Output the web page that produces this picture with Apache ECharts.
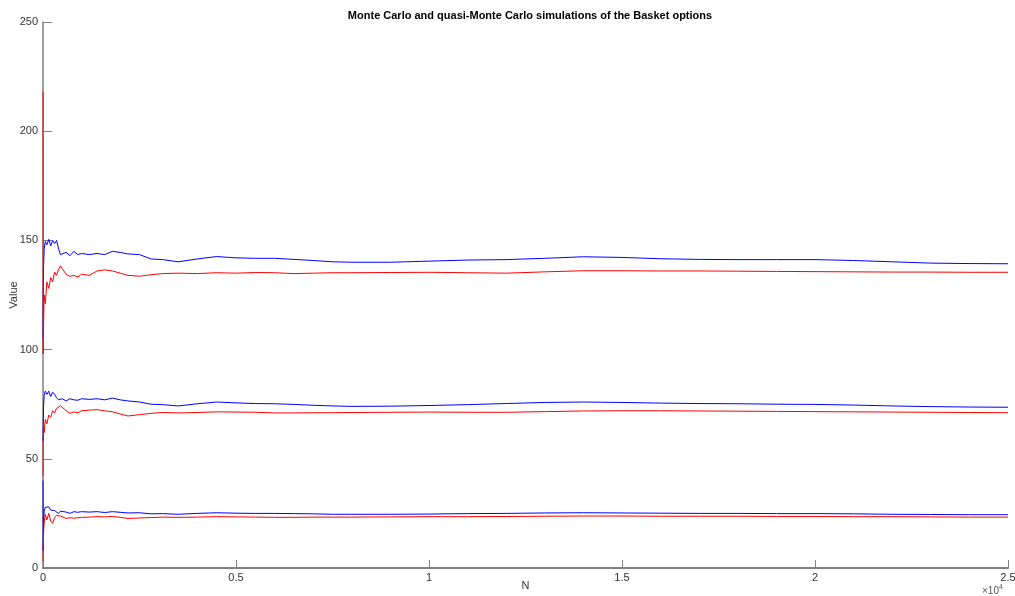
<!DOCTYPE html>
<html>
<head>
<meta charset="utf-8">
<script src="https://cdn.jsdelivr.net/npm/echarts@6/dist/echarts.min.js"></script>
<style>html,body{margin:0;padding:0;background:#fff}#c{width:1015px;height:596px}</style>
</head>
<body>
<div id="c"></div>
<script>
const N = [1, 5, 15, 30, 60, 100, 150, 200, 250, 300, 350, 400, 450, 500, 600, 700, 800, 900, 1000, 1200, 1400, 1600, 1800, 2000, 2200, 2500, 2800, 3100, 3500, 4000, 4500, 5000, 5500, 6000, 6500, 7000, 7500, 8000, 9000, 10000, 11000, 12000, 13000, 14000, 15000, 16000, 17000, 18000, 19000, 20000, 21000, 22000, 23000, 24000, 25000];

const mcHigh = [105, 122, 138, 146, 149.5, 148, 150.5, 147.5, 150, 148.5, 150, 146.5, 143.5, 143, 144.5, 143, 145, 143.5, 144, 143.5, 144, 143.5, 145, 144.5, 143.8, 143.5, 141.5, 141.2, 140.2, 141.5, 142.6, 142, 141.8, 141.8, 141.3, 140.8, 140.2, 140, 140, 140.5, 141, 141.2, 141.8, 142.5, 142.2, 141.6, 141.3, 141.2, 141.2, 141.2, 140.8, 140.2, 139.6, 139.4, 139.3];
const qmcHigh = [218, 98, 112, 125, 121, 131, 128, 133, 131, 135.5, 134, 136.5, 138.3, 137.5, 134.5, 133.5, 134, 133.2, 134.5, 134, 136, 136.5, 136, 135, 134, 133.6, 134.3, 134.8, 135, 134.8, 135.2, 135, 135.3, 135.2, 134.8, 135, 135.2, 135.2, 135.3, 135.4, 135.2, 135, 135.6, 136.1, 136.1, 136, 136, 135.9, 135.8, 135.7, 135.6, 135.5, 135.5, 135.4, 135.4];

const mcMid = [58, 65, 74, 79, 81, 79.5, 81, 78.5, 80.5, 79.5, 78, 77, 76.5, 77.5, 76.5, 77.5, 77, 76.8, 77.5, 77.2, 77.5, 77, 77.8, 77, 76.5, 76, 75, 74.8, 74.2, 75.2, 76, 75.6, 75.3, 75.2, 74.9, 74.5, 74.2, 74, 74.1, 74.4, 74.8, 75.3, 75.8, 76, 75.8, 75.5, 75.3, 75.2, 75, 74.9, 74.6, 74.2, 73.9, 73.7, 73.6];
const qmcMid = [42, 58, 66, 62, 68, 66, 70, 69, 72, 71, 73, 72.5, 74.3, 73.8, 72, 70.8, 71.5, 71, 72, 72.3, 72.5, 72, 71.5, 70.5, 69.6, 70.2, 70.8, 71.2, 71, 71.2, 71.5, 71.4, 71.3, 71, 71, 71.1, 71.1, 71.2, 71.3, 71.4, 71.3, 71.3, 71.6, 71.9, 72, 72, 71.9, 71.8, 71.7, 71.6, 71.5, 71.4, 71.3, 71.2, 71.1];

const mcLow = [40, 8, 20, 26, 27.8, 27.3, 28, 26.5, 27.2, 26.3, 25.5, 25, 26, 25.3, 25.6, 25, 25.8, 25.5, 25.8, 25.6, 25.8, 25.4, 25.8, 25.5, 25.2, 25.3, 24.8, 24.9, 24.6, 25, 25.3, 25.1, 25, 25, 24.9, 24.8, 24.6, 24.6, 24.6, 24.7, 24.9, 25, 25.2, 25.3, 25.2, 25.1, 25, 25, 24.9, 24.9, 24.8, 24.6, 24.5, 24.4, 24.4];
const qmcLow = [3, 10, 16, 21, 24.5, 22, 25, 21.5, 20.5, 23, 24, 24.5, 23.8, 23.2, 22.7, 23, 22.8, 23, 23.2, 23.3, 23.5, 23.4, 23.6, 23.2, 22.7, 22.9, 23.1, 23.3, 23.2, 23.3, 23.5, 23.4, 23.3, 23.2, 23.2, 23.3, 23.3, 23.3, 23.4, 23.5, 23.5, 23.6, 23.7, 23.8, 23.8, 23.7, 23.7, 23.7, 23.6, 23.6, 23.5, 23.5, 23.4, 23.3, 23.3];

const titleText = 'Monte Carlo and quasi-Monte Carlo simulations of the Basket options';
const xName = 'N';
const yName = 'Value';

const blue = '#0000ff', red = '#ff0000';
function mk(vals, color) {
  return {
    type: 'line', data: N.map((n, i) => [n, vals[i]]), showSymbol: false, symbol: 'none',
    lineStyle: { color: color, width: 1 }, itemStyle: { color: color }, animation: false
  };
}
const font = 'Liberation Sans, Arial, Helvetica, sans-serif';
const chart = echarts.init(document.getElementById('c'), null, { renderer: 'canvas' });
chart.setOption({
  backgroundColor: '#fff',
  animation: false,
  title: {
    text: titleText, left: 525, top: 5, textAlign: 'center',
    textStyle: { fontFamily: font, fontSize: 11, fontWeight: 'bold', color: '#000' }
  },
  grid: { left: 43, right: 7, top: 22, bottom: 28, containLabel: false, outerBoundsMode: 'none' },
  xAxis: {
    type: 'value', min: 0, max: 25000, interval: 5000,
    name: xName, nameLocation: 'middle', nameGap: 12, nameMoveOverlap: false,
    nameTextStyle: { fontFamily: font, fontSize: 11, color: '#333' },
    axisLine: { show: true, onZero: false, lineStyle: { color: '#808080', width: 2 } },
    axisTick: { show: true, inside: true, length: 8, lineStyle: { color: '#808080' } },
    axisLabel: { fontFamily: font, fontSize: 11, color: '#333', margin: 4,
      formatter: v => String(v / 10000) },
    splitLine: { show: false }
  },
  yAxis: {
    type: 'value', min: 0, max: 250, interval: 50,
    name: yName, nameLocation: 'middle', nameGap: 24, nameRotate: 90, nameMoveOverlap: false,
    nameTextStyle: { fontFamily: font, fontSize: 11, color: '#333' },
    axisLine: { show: true, lineStyle: { color: '#808080', width: 1.5 } },
    axisTick: { show: true, inside: true, length: 9, lineStyle: { color: '#808080' } },
    axisLabel: { fontFamily: font, fontSize: 11, color: '#333', margin: 5 },
    splitLine: { show: false }
  },
  graphic: [{
    type: 'text', left: 982, top: 584,
    style: {
      text: '{a|×10}{b|4}',
      rich: {
        a: { fontFamily: font, fontSize: 10, fill: '#555' },
        b: { fontFamily: font, fontSize: 7, fill: '#555', verticalAlign: 'top', padding: [0, 0, 7, 0] }
      }
    }
  }],
  series: [mk(mcHigh, blue), mk(mcMid, blue), mk(mcLow, blue), mk(qmcHigh, red), mk(qmcMid, red), mk(qmcLow, red)]
});
</script>
</body>
</html>
